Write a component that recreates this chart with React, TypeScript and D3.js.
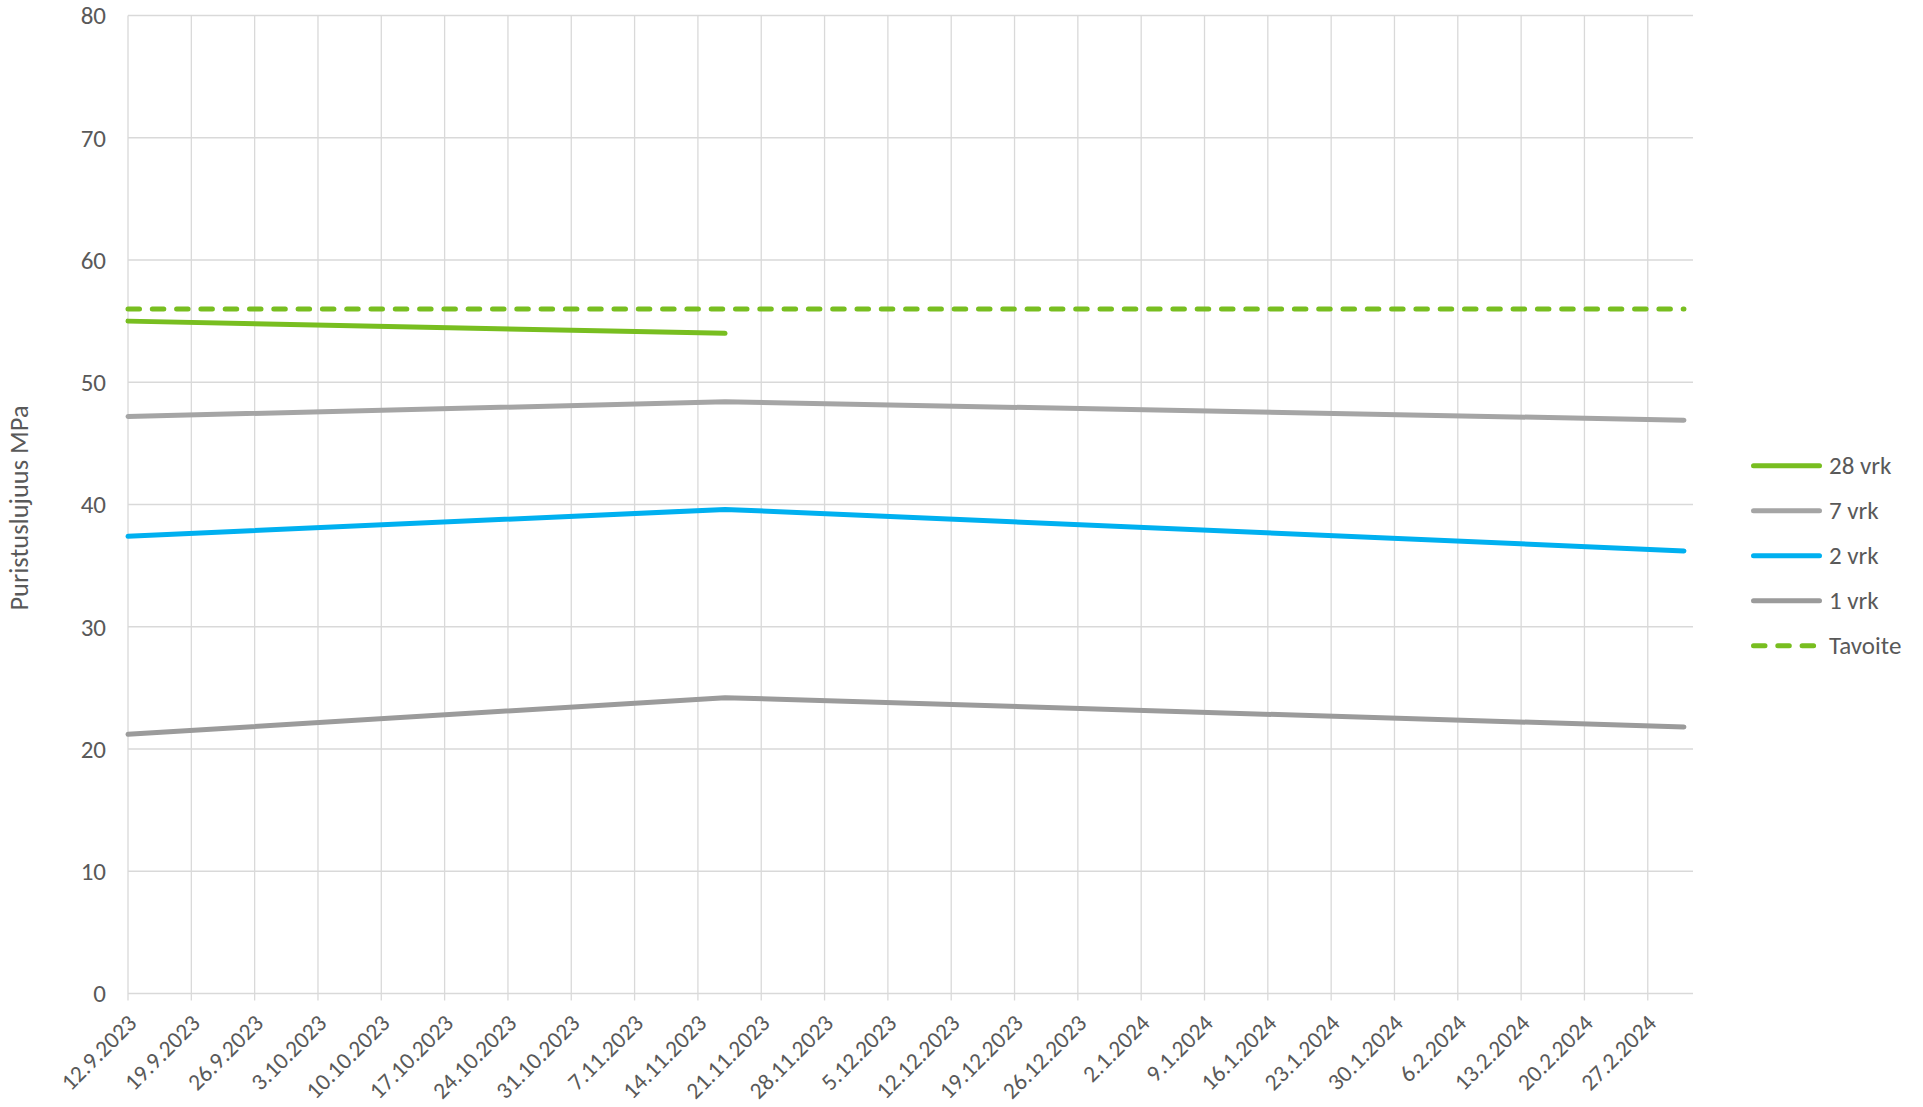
import React from "react";
import * as d3 from "d3";

// x-axis tick labels (weekly)
const tickLabels = [
  "12.9.2023", "19.9.2023", "26.9.2023", "3.10.2023", "10.10.2023", "17.10.2023",
  "24.10.2023", "31.10.2023", "7.11.2023", "14.11.2023", "21.11.2023", "28.11.2023",
  "5.12.2023", "12.12.2023", "19.12.2023", "26.12.2023", "2.1.2024", "9.1.2024",
  "16.1.2024", "23.1.2024", "30.1.2024", "6.2.2024", "13.2.2024", "20.2.2024", "27.2.2024",
];
const axisStart = "12.9.2023";
const axisEnd = "3.3.2024";
const yTicks = [0, 10, 20, 30, 40, 50, 60, 70, 80];

// measurement dates
const dates28 = ["12.9.2023", "17.11.2023"];
const values28 = [55, 54];
const datesAll = ["12.9.2023", "17.11.2023", "2.3.2024"];
const values7 = [47.2, 48.4, 46.9];
const values2 = [37.4, 39.6, 36.2];
const values1 = [21.2, 24.2, 21.8];
const targetDates = ["12.9.2023", "2.3.2024"];
const targetValues = [56, 56];

const seriesNames = ["28 vrk", "7 vrk", "2 vrk", "1 vrk", "Tavoite"];
const seriesColors = ["#78BE20", "#A5A5A5", "#00B0F0", "#9B9B9B", "#78BE20"];

const parseDate = (s: string) => {
  const [d, m, y] = s.split(".").map(Number);
  return new Date(Date.UTC(y, m - 1, d));
};

const FONT = "Carlito, Calibri, Lato, 'Open Sans', sans-serif";
const TEXT = "#595959";
const GRID = "#D9D9D9";
const FS = 25;
const TICK_FS = 23.5;

export default function App() {
  const W = 1923;
  const H = 1107;
  const left = 128;
  const top = 15.5;
  const bottom = 993.5;
  const right = 1693;

  const x = d3
    .scaleUtc()
    .domain([parseDate(axisStart), parseDate(axisEnd)])
    .range([left, right]);
  const y = d3.scaleLinear().domain([0, 80]).range([bottom, top]);

  const line = d3
    .line<[Date, number]>()
    .x((d) => x(d[0]))
    .y((d) => y(d[1]));

  const zip = (ds: string[], vs: number[]) =>
    ds.map((d, i) => [parseDate(d), vs[i]] as [Date, number]);

  const series = [
    { data: zip(dates28, values28), dash: undefined },
    { data: zip(datesAll, values7), dash: undefined },
    { data: zip(datesAll, values2), dash: undefined },
    { data: zip(datesAll, values1), dash: undefined },
    { data: zip(targetDates, targetValues), dash: "11.5 12.8" },
  ];
  // draw order: lower series first, target last
  const drawOrder = [3, 1, 2, 0, 4];

  const legendX = 1751;
  const legendY0 = 465.7;
  const legendStep = 45;

  return (
    <svg
      width={W}
      height={H}
      style={{ position: "absolute", left: 0, top: 0, background: "#fff" }}
      fontFamily={FONT}
    >
      <rect width={W} height={H} fill="#fff" />

      {/* horizontal grid */}
      {yTicks.map((t) => (
        <line key={"h" + t} x1={left} x2={right} y1={y(t)} y2={y(t)} stroke={GRID} strokeWidth={1.3} />
      ))}
      {/* vertical grid + tick marks */}
      {tickLabels.map((lab) => {
        const xx = x(parseDate(lab));
        return (
          <line key={"v" + lab} x1={xx} x2={xx} y1={top} y2={bottom + 7} stroke={GRID} strokeWidth={1.3} />
        );
      })}

      {/* y tick labels */}
      {yTicks.map((t) => (
        <text key={"yl" + t} x={106} y={y(t)} dy="0.35em" textAnchor="end" fontSize={FS} fill={TEXT}>
          {t}
        </text>
      ))}

      {/* x tick labels */}
      {tickLabels.map((lab) => {
        const xx = x(parseDate(lab));
        return (
          <text
            key={"xl" + lab}
            transform={`translate(${xx + 10}, ${bottom + 31}) rotate(-45)`}
            textAnchor="end"
            fontSize={TICK_FS}
            fill={TEXT}
          >
            {lab}
          </text>
        );
      })}

      {/* y axis title */}
      <text
        transform={`translate(28, 508) rotate(-90)`}
        textAnchor="middle"
        fontSize={26.5}
        fill={TEXT}
      >
        Puristuslujuus MPa
      </text>

      {/* series */}
      {drawOrder.map((i) => (
        <path
          key={"s" + i}
          d={line(series[i].data) || ""}
          fill="none"
          stroke={seriesColors[i]}
          strokeWidth={5}
          strokeLinecap="round"
          strokeLinejoin="round"
          strokeDasharray={series[i].dash}
        />
      ))}

      {/* legend */}
      {seriesNames.map((name, i) => {
        const ly = legendY0 + i * legendStep;
        return (
          <g key={"lg" + name}>
            <line
              x1={legendX + 2.5}
              x2={legendX + 68.5}
              y1={ly}
              y2={ly}
              stroke={seriesColors[i]}
              strokeWidth={5}
              strokeLinecap="round"
              strokeDasharray={series[i].dash}
            />
            <text x={1829} y={ly} dy="0.35em" fontSize={FS} fill={TEXT}>
              {name}
            </text>
          </g>
        );
      })}
    </svg>
  );
}
